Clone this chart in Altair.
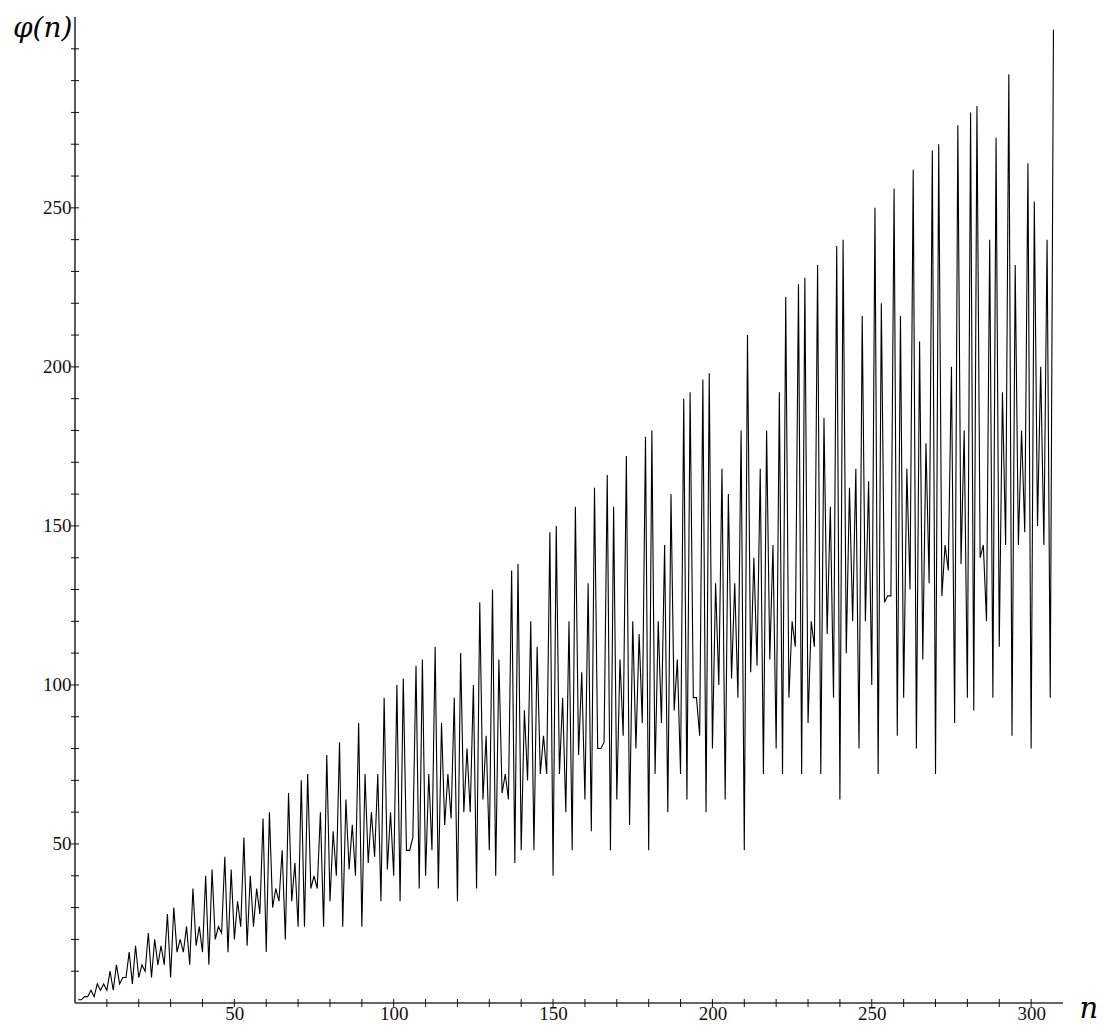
import altair as alt
import pandas as pd

# Euler totient values phi(n) for n = 1 .. 307
phi = [
    1, 1, 2, 2, 4, 2, 6, 4, 6, 4,
    10, 4, 12, 6, 8, 8, 16, 6, 18, 8,
    12, 10, 22, 8, 20, 12, 18, 12, 28, 8,
    30, 16, 20, 16, 24, 12, 36, 18, 24, 16,
    40, 12, 42, 20, 24, 22, 46, 16, 42, 20,
    32, 24, 52, 18, 40, 24, 36, 28, 58, 16,
    60, 30, 36, 32, 48, 20, 66, 32, 44, 24,
    70, 24, 72, 36, 40, 36, 60, 24, 78, 32,
    54, 40, 82, 24, 64, 42, 56, 40, 88, 24,
    72, 44, 60, 46, 72, 32, 96, 42, 60, 40,
    100, 32, 102, 48, 48, 52, 106, 36, 108, 40,
    72, 48, 112, 36, 88, 56, 72, 58, 96, 32,
    110, 60, 80, 60, 100, 36, 126, 64, 84, 48,
    130, 40, 108, 66, 72, 64, 136, 44, 138, 48,
    92, 70, 120, 48, 112, 72, 84, 72, 148, 40,
    150, 72, 96, 60, 120, 48, 156, 78, 104, 64,
    132, 54, 162, 80, 80, 82, 166, 48, 156, 64,
    108, 84, 172, 56, 120, 80, 116, 88, 178, 48,
    180, 72, 120, 88, 144, 60, 160, 92, 108, 72,
    190, 64, 192, 96, 96, 84, 196, 60, 198, 80,
    132, 100, 168, 64, 160, 102, 132, 96, 180, 48,
    210, 104, 140, 106, 168, 72, 180, 108, 144, 80,
    192, 72, 222, 96, 120, 112, 226, 72, 228, 88,
    120, 112, 232, 72, 184, 116, 156, 96, 238, 64,
    240, 110, 162, 120, 168, 80, 216, 120, 164, 100,
    250, 72, 220, 126, 128, 128, 256, 84, 216, 96,
    168, 130, 262, 80, 208, 108, 176, 132, 268, 72,
    270, 128, 144, 136, 200, 88, 276, 138, 180, 96,
    280, 92, 282, 140, 144, 120, 240, 96, 272, 112,
    192, 144, 292, 84, 232, 144, 180, 148, 264, 80,
    252, 150, 200, 144, 240, 96, 306,
]
n_values = list(range(1, len(phi) + 1))

x_ticks = list(range(10, 301, 10))          # all tick marks on n axis
y_ticks = list(range(10, 301, 10))          # all tick marks on phi axis
x_labels = [50, 100, 150, 200, 250, 300]    # labelled ticks
y_labels = [50, 100, 150, 200, 250]
x_domain = [0, 310]
y_domain = [0, 310]

df = pd.DataFrame({"n": n_values, "phi": phi})
xt = pd.DataFrame({"n": x_ticks})
yt = pd.DataFrame({"phi": y_ticks})

LABEL_FONT = "Liberation Serif"
TITLE_FONT = "DejaVu Serif"
INK = "#111"

x_axis = alt.Axis(
    values=x_labels,
    domain=False,
    ticks=False,
    grid=False,
    labelPadding=16,
    labelBaseline="alphabetic",
    labelFont=LABEL_FONT,
    labelFontSize=19,
    labelColor=INK,
    labelFlush=False,
    labelOverlap=False,
    title="n",
    titleFont=TITLE_FONT,
    titleFontStyle="italic",
    titleFontWeight="normal",
    titleFontSize=29,
    titleColor="#000",
    titleAlign="left",
    titleBaseline="alphabetic",
    titleX=1004,
    titleY=14,
)

y_axis = alt.Axis(
    values=y_labels,
    domain=False,
    ticks=False,
    grid=False,
    labelPadding=4,
    labelFont=LABEL_FONT,
    labelFontSize=19,
    labelColor=INK,
    labelFlush=False,
    labelOverlap=False,
    title="φ(n)",
    titleFont=TITLE_FONT,
    titleFontStyle="italic",
    titleFontWeight="normal",
    titleFontSize=28,
    titleColor="#000",
    titleAngle=0,
    titleAlign="right",
    titleBaseline="alphabetic",
    titleX=-3,
    titleY=19,
)

xs = alt.Scale(domain=x_domain, nice=False, zero=False)
ys = alt.Scale(domain=y_domain, nice=False, zero=False)

line = alt.Chart(df).mark_line(color="black", strokeWidth=1.1).encode(
    x=alt.X("n:Q", scale=xs, axis=x_axis),
    y=alt.Y("phi:Q", scale=ys, axis=y_axis),
)

one = alt.Data(values=[{}])
y_domain_line = alt.Chart(one).mark_rule(color="#333", strokeWidth=1.6).encode(
    x=alt.datum(x_domain[0]),
    y=alt.datum(y_domain[0]),
    y2=alt.datum(y_domain[1]),
)
x_domain_line = alt.Chart(one).mark_rule(color="#333", strokeWidth=1.6).encode(
    y=alt.datum(y_domain[0]),
    x=alt.datum(x_domain[0]),
    x2=alt.datum(x_domain[1]),
)

# tick marks that cross the axis lines
x_tick_marks = alt.Chart(xt).mark_tick(
    orient="vertical", size=8, thickness=1, color=INK, opacity=1
).encode(
    x=alt.X("n:Q", scale=xs),
    y=alt.datum(y_domain[0]),
)
y_tick_marks = alt.Chart(yt).mark_tick(
    orient="horizontal", size=8, thickness=1, color=INK, opacity=1
).encode(
    y=alt.Y("phi:Q", scale=ys),
    x=alt.datum(x_domain[0]),
)

chart = (
    alt.layer(line, y_domain_line, x_domain_line, x_tick_marks, y_tick_marks)
    .properties(
        width=988,
        height=986,
        autosize=alt.AutoSizeParams(type="none"),
        padding={"left": 67, "top": 9, "right": 36, "bottom": 20},
        view=alt.ViewBackground(strokeOpacity=0, strokeWidth=0),
    )
    .configure_view(stroke=None)
    .configure(background="white")
)

chart.save("out.html", embed_options={"renderer": "svg", "actions": False})
